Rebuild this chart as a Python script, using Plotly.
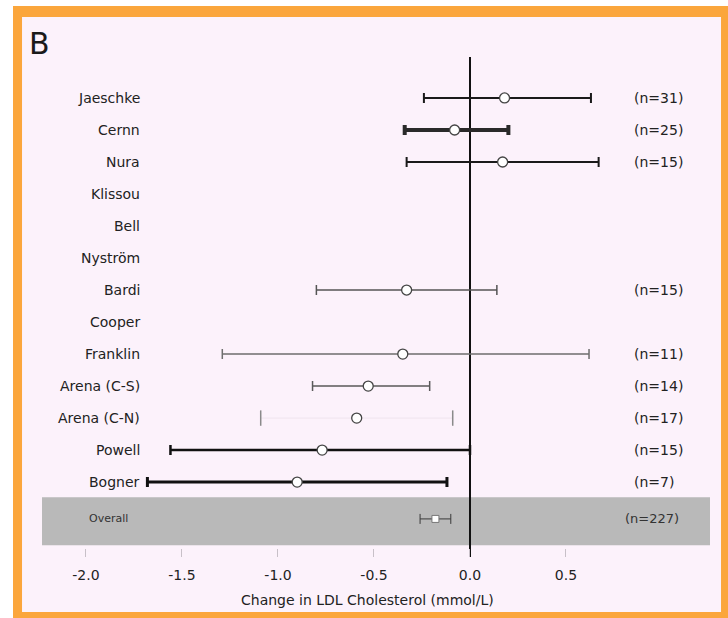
import plotly.graph_objects as go

# Study-level estimates: change in LDL cholesterol (mmol/L) with confidence limits
studies = ["Jaeschke", "Cernn", "Nura", "Klissou", "Bell", "Nyström", "Bardi",
           "Cooper", "Franklin", "Arena (C-S)", "Arena (C-N)", "Powell", "Bogner"]
means = [0.18, -0.08, 0.17, None, None, None, -0.33, None, -0.35, -0.53, -0.59, -0.77, -0.90]
lower = [-0.24, -0.34, -0.33, None, None, None, -0.80, None, -1.29, -0.82, -1.09, -1.56, -1.68]
upper = [0.63, 0.20, 0.67, None, None, None, 0.14, None, 0.62, -0.21, -0.09, 0.00, -0.12]
n_labels = ["(n=31)", "(n=25)", "(n=15)", "", "", "", "(n=15)", "", "(n=11)",
            "(n=14)", "(n=17)", "(n=15)", "(n=7)"]

overall_label = "Overall"
overall_mean = -0.18
overall_lower = -0.26
overall_upper = -0.10
overall_n = "(n=227)"

x_ticks = [-2.0, -1.5, -1.0, -0.5, 0.0, 0.5]
x_tick_text = ["-2.0", "-1.5", "-1.0", "-0.5", "0.0", "0.5"]
x_title = "Change in LDL Cholesterol (mmol/L)"
panel_tag = "B"

# line weight / colour per study row (drawing style only)
bar_width = [2, 4, 2, 2, 2, 2, 1.5, 2, 1.5, 1.5, 1, 2.5, 3]
bar_color = ["#1a1a1a", "#2a2a2a", "#1a1a1a", "#1a1a1a", "#1a1a1a", "#1a1a1a", "#555555",
             "#1a1a1a", "#6e6e6e", "#5a5a5a", "#efe4ee", "#111111", "#111111"]

FONT = "DejaVu Sans"
row_pos = list(range(len(studies)))
overall_pos = 13.15

fig = go.Figure()

for i, name in enumerate(studies):
    m = means[i]
    if m is None:
        continue
    fig.add_trace(go.Scatter(
        x=[m], y=[row_pos[i]], mode="markers",
        marker=dict(symbol="circle", size=10, color="white",
                    line=dict(color="#444444", width=1.3)),
        error_x=dict(type="data", symmetric=False,
                     array=[upper[i] - m], arrayminus=[m - lower[i]],
                     color=bar_color[i], thickness=bar_width[i], width=5),
        showlegend=False, hoverinfo="skip",
    ))

# end caps for the faint Arena (C-N) interval
k = studies.index("Arena (C-N)")
fig.add_trace(go.Scatter(
    x=[lower[k], upper[k]], y=[row_pos[k], row_pos[k]], mode="markers",
    marker=dict(symbol="line-ns", size=11, line=dict(color="#8a8a8a", width=1.5)),
    showlegend=False, hoverinfo="skip",
))

# pooled estimate
fig.add_trace(go.Scatter(
    x=[overall_mean], y=[overall_pos], mode="markers",
    marker=dict(symbol="square", size=7, color="white",
                line=dict(color="#777777", width=1)),
    error_x=dict(type="data", symmetric=False,
                 array=[overall_upper - overall_mean],
                 arrayminus=[overall_mean - overall_lower],
                 color="#3a3a3a", thickness=1, width=5),
    showlegend=False, hoverinfo="skip",
))

annotations = []
for i, name in enumerate(studies):
    annotations.append(dict(
        x=0.149, xref="paper", y=row_pos[i], yref="y", text=name,
        xanchor="right", yanchor="middle", showarrow=False,
        font=dict(family=FONT, size=14, color="#222222")))
    if n_labels[i]:
        annotations.append(dict(
            x=0.883, xref="paper", y=row_pos[i], yref="y", text=n_labels[i],
            xanchor="left", yanchor="middle", showarrow=False,
            font=dict(family=FONT, size=14, color="#222222")))

annotations.append(dict(
    x=0.132, xref="paper", y=overall_pos, yref="y", text=overall_label,
    xanchor="right", yanchor="middle", showarrow=False,
    font=dict(family=FONT, size=11, color="#333333")))
annotations.append(dict(
    x=0.870, xref="paper", y=overall_pos, yref="y", text=overall_n,
    xanchor="left", yanchor="middle", showarrow=False,
    font=dict(family=FONT, size=13, color="#333333")))
annotations.append(dict(
    x=0.487, xref="paper", y=-0.086, yref="paper", text=x_title,
    xanchor="center", yanchor="middle", showarrow=False,
    font=dict(family=FONT, size=14, color="#222222")))
annotations.append(dict(
    x=-0.004, xref="paper", y=1.026, yref="paper", text=panel_tag,
    xanchor="center", yanchor="middle", showarrow=False,
    font=dict(family=FONT, size=30, color="#1a1a1a")))

shapes = [
    # orange frame
    dict(type="rect", xref="paper", yref="paper", x0=-0.0434, x1=1.035, y0=-0.13, y1=1.102,
         fillcolor="#fba63c", line=dict(width=0), layer="below"),
    # panel background
    dict(type="rect", xref="paper", yref="paper", x0=-0.0299, x1=1.0165, y0=-0.11, y1=1.08,
         fillcolor="#fcf2fb", line=dict(width=0), layer="below"),
    # shaded pooled-estimate band
    dict(type="rect", xref="paper", yref="y", x0=0, x1=1, y0=12.47, y1=13.97,
         fillcolor="#b9b9b9", line=dict(width=0), layer="below"),
]

fig.update_layout(
    width=728, height=618,
    margin=dict(l=42, r=18, t=57, b=61),
    paper_bgcolor="white", plot_bgcolor="rgba(0,0,0,0)",
    showlegend=False,
    shapes=shapes, annotations=annotations,
    xaxis=dict(range=[-2.229, 1.25], tickvals=x_ticks, ticktext=x_tick_text,
               ticks="inside", ticklen=8, tickcolor="#c8c0c8", tickwidth=1,
               ticklabelstandoff=8,
               showgrid=False, showline=False,
               zeroline=True, zerolinecolor="#111111", zerolinewidth=2,
               tickfont=dict(family=FONT, size=14, color="#222222"), fixedrange=True),
    yaxis=dict(range=[14.34, -1.28], showticklabels=False, ticks="",
               showgrid=False, zeroline=False, showline=False, fixedrange=True),
)

fig.write_html("out.html")
